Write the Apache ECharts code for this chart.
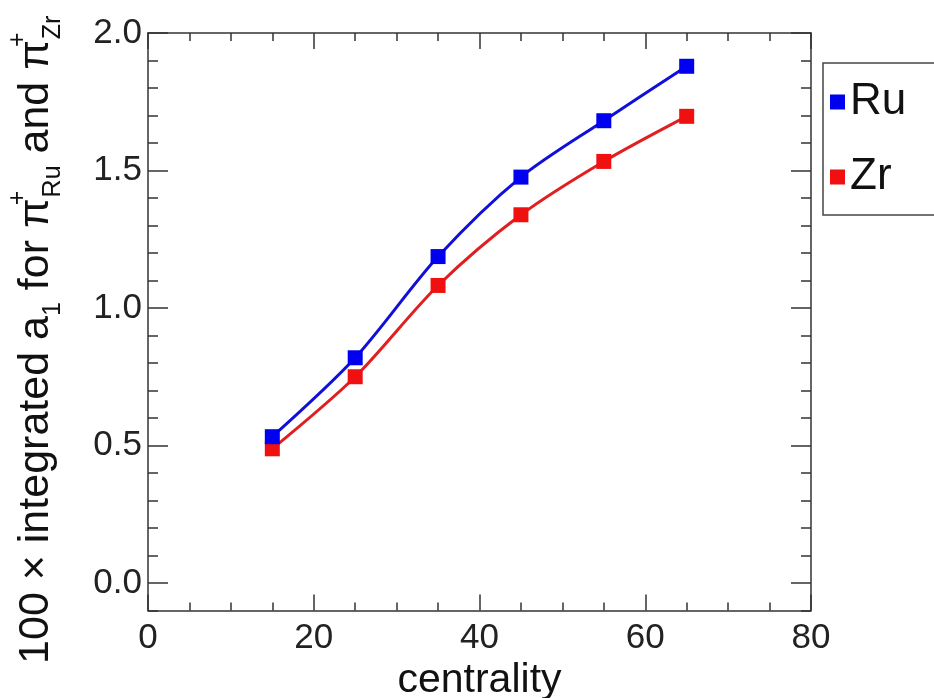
<!DOCTYPE html>
<html>
<head>
<meta charset="utf-8">
<script src="https://cdn.jsdelivr.net/npm/echarts@6/dist/echarts.min.js"></script>
<style>html,body{margin:0;padding:0;background:#fff;}#c{width:934px;height:698px;}</style>
</head>
<body>
<div id="c"></div>
<script>
const centrality = [15, 25, 35, 45, 55, 65];
const ru = [0.532, 0.819, 1.187, 1.476, 1.681, 1.879];
const zr = [0.488, 0.750, 1.082, 1.339, 1.533, 1.697];
const yMajorTicks = [0, 0.5, 1.0, 1.5, 2.0];
const yMinorTicks = [-0.1, 0.1, 0.2, 0.3, 0.4, 0.6, 0.7, 0.8, 0.9, 1.1, 1.2, 1.3, 1.4, 1.6, 1.7, 1.8, 1.9];
const xTitle = 'centrality';
const yTitle = '100 × integrated a{sub|1} for π{sup|+}{sub|Ru} and π{sup|+}{sub|Zr}';

const FONT = 'Liberation Sans';
const AXC = '#333';
const chart = echarts.init(document.getElementById('c'), null, {renderer: 'canvas'});

function xAx(pos, labels) {
  return {
    type: 'value', position: pos, min: 0, max: 80, interval: 20,
    axisLine: {show: true, onZero: false, lineStyle: {color: AXC, width: 1.5}},
    axisTick: {show: true, inside: true, length: 16, lineStyle: {color: AXC, width: 1.5}},
    minorTick: {show: true, splitNumber: 4, length: 8, lineStyle: {color: AXC, width: 1.5}},
    splitLine: {show: false}, minorSplitLine: {show: false},
    axisLabel: {show: labels, fontFamily: FONT, fontSize: 35, color: '#222', margin: 10},
    name: labels ? xTitle : '', nameLocation: 'middle', nameGap: 46,
    nameTextStyle: {fontFamily: FONT, fontSize: 41, color: '#111'}
  };
}
function yAx(pos, ticks, len, labels, line, withName) {
  const o = {
    type: 'value', position: pos, min: -0.1, max: 2.0,
    axisLine: {show: line, onZero: false, lineStyle: {color: AXC, width: 1.5}},
    axisTick: {show: true, inside: true, length: len, customValues: ticks, lineStyle: {color: AXC, width: 1.5}},
    splitLine: {show: false},
    axisLabel: {show: labels, customValues: ticks, fontFamily: FONT, fontSize: 35, color: '#222', margin: 6,
      formatter: v => v.toFixed(1)}
  };
  if (withName) {
    o.name = yTitle;
    o.nameLocation = 'middle';
    o.nameRotate = 90;
    o.nameGap = 82;
    o.nameTextStyle = {
      fontFamily: FONT, fontSize: 43, color: '#111', lineHeight: 60, padding: [0, 36, 0, 0],
      rich: {
        sub: {fontFamily: FONT, fontSize: 25, color: '#111', lineHeight: 26, verticalAlign: 'bottom'},
        sup: {fontFamily: FONT, fontSize: 25, color: '#111', lineHeight: 26, verticalAlign: 'top', width: 1}
      }
    };
  }
  return o;
}

chart.setOption({
  animation: false,
  backgroundColor: '#fff',
  grid: {left: 148, right: 123, top: 33, bottom: 87.5, containLabel: false, outerBoundsMode: 'none'},
  legend: {
    orient: 'vertical', left: 823, top: 63,
    padding: [14, 60, 13, 7], itemGap: 25,
    borderColor: '#444', borderWidth: 1.5,
    itemWidth: 15, itemHeight: 15, icon: 'rect',
    textStyle: {fontFamily: FONT, fontSize: 44, color: '#111', lineHeight: 50},
    data: ['Ru', 'Zr']
  },
  xAxis: [xAx('bottom', true), xAx('top', false)],
  yAxis: [
    yAx('left', yMajorTicks, 20, true, true, true),
    yAx('left', yMinorTicks, 10, false, false, false),
    yAx('right', yMajorTicks, 20, false, true, false),
    yAx('right', yMinorTicks, 10, false, false, false)
  ],
  series: [
    {name: 'Ru', type: 'line', smooth: 0.3, xAxisIndex: 0, yAxisIndex: 0,
      data: centrality.map((c, i) => [c, ru[i]]),
      symbol: 'rect', symbolSize: 15, color: '#0000f0',
      lineStyle: {color: '#1010d8', width: 3}, itemStyle: {color: '#0000f0'}, z: 3},
    {name: 'Zr', type: 'line', smooth: 0.3, xAxisIndex: 0, yAxisIndex: 0,
      data: centrality.map((c, i) => [c, zr[i]]),
      symbol: 'rect', symbolSize: 15, color: '#f01010',
      lineStyle: {color: '#e02020', width: 3}, itemStyle: {color: '#f01010'}, z: 2}
  ]
});
</script>
</body>
</html>
